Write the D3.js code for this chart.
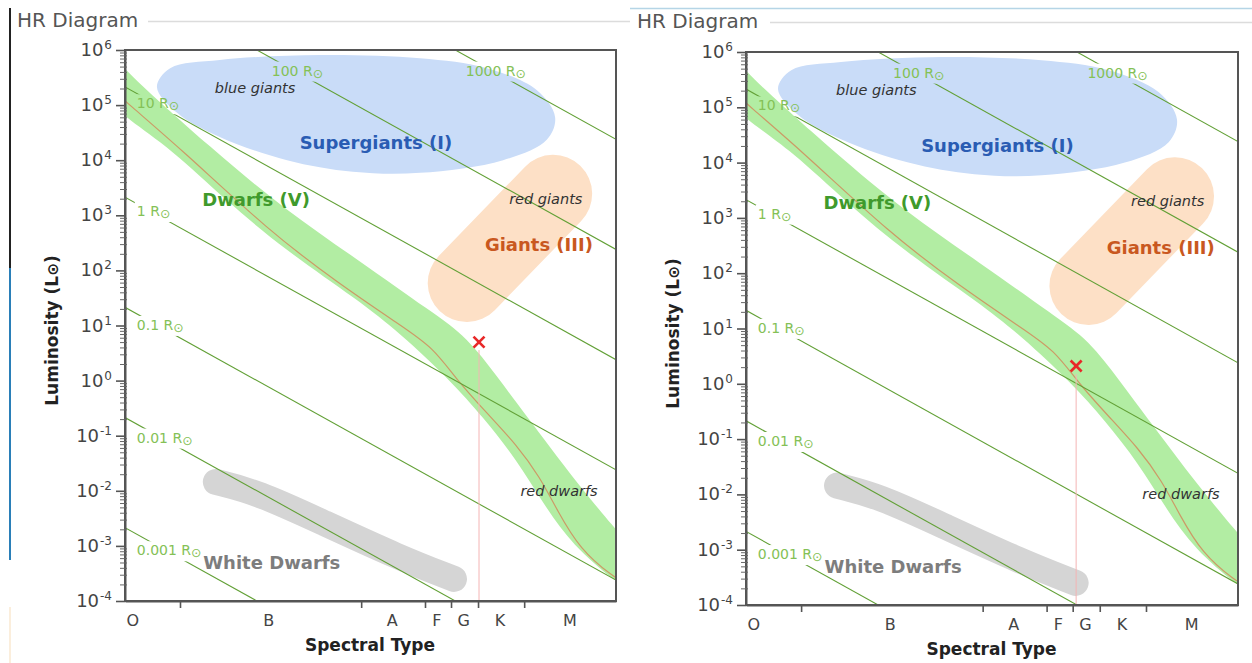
<!DOCTYPE html>
<html><head><meta charset="utf-8">
<script src="https://cdn.jsdelivr.net/npm/d3@7"></script>
<style>
html,body{margin:0;padding:0;background:#fff;overflow:hidden;}
svg{display:block;font-family:"DejaVu Sans",Verdana,sans-serif;}
</style></head><body>
<svg id="chart" width="1252" height="663"></svg>
<script>
// ---------------- DATA ----------------
// x is a schematic spectral position (0 = left edge, 100 = right edge); luminosity as log10(L/Lsun)
const spectralClasses = ["O","B","A","F","G","K","M"];
const spectralLabelX = [1.6, 29.3, 54.4, 63.5, 69.0, 76.4, 90.6];
const spectralBoundaries = [11.2, 48.1, 61.1, 66.4, 71.9, 81.3];
const lumExponents = [-4,-3,-2,-1,0,1,2,3,4,5,6];

const radiusLabels = ["1000 R","100 R","10 R","1 R","0.1 R","0.01 R","0.001 R"];
const radiusLogLLeft = [9.33, 7.33, 5.33, 3.33, 1.33, -0.67, -2.67];
const radiusLogLRight = [4.38, 2.38, 0.38, -1.62, -3.62, -5.62, -7.62];
const radiusLabelStartX = [69.4, 29.9, 2.4, 2.4, 2.4, 2.4, 2.4];

const supergiantX = [6.5, 9.2, 19.3, 39.7, 60.1, 73.7, 83.9, 87.6, 85.9, 77.0, 60.1, 46.4, 33.0, 19.3, 10.6];
const supergiantLogL = [5.33, 5.67, 5.82, 5.91, 5.85, 5.67, 5.27, 4.78, 4.37, 4.00, 3.77, 3.79, 4.00, 4.42, 4.86];

const giantX = [69.6, 87.2];
const giantLogL = [1.77, 3.39];

const whiteDwarfX = [18.5, 27.0, 39.7, 56.0, 67.0];
const whiteDwarfLogL = [-1.84, -2.03, -2.55, -3.22, -3.60];

const msUpperX = [-2, 0, 17.9, 32.6, 47.5, 62.7, 69.7, 75.8, 81.9, 86.6, 92.1, 100, 102];
const msUpperLogL = [5.88, 5.62, 4.19, 3.10, 2.19, 1.23, 0.79, 0.07, -0.66, -1.21, -1.86, -2.71, -2.90];
const msLowerX = [-2, 0, 9.6, 20.4, 32.6, 47.5, 56.0, 66.2, 72.9, 79.8, 85.1, 91.2, 100, 102];
const msLowerLogL = [4.98, 4.78, 4.19, 3.28, 2.37, 1.46, 0.86, 0.01, -0.66, -1.44, -2.22, -3.00, -3.65, -3.75];
const zamsX = [-2, 0, 11.6, 29.1, 43.4, 56.0, 62.7, 67.6, 73.7, 79.8, 84.5, 88.0, 92.7, 99.4, 102];
const zamsLogL = [5.25, 5.07, 4.19, 2.73, 1.77, 1.01, 0.61, 0.01, -0.59, -1.17, -1.75, -2.35, -3.07, -3.56, -3.68];

const regionLabels = ["blue giants","Supergiants (I)","Dwarfs (V)","red giants","Giants (III)","red dwarfs","White Dwarfs"];
const regionLabelX = [26.5, 51.1, 26.7, 85.7, 84.3, 88.4, 29.9];
const regionLabelLogL = [5.31, 4.31, 3.28, 3.30, 2.46, -2.00, -3.31];

const starX = [72.1, 67.1];
const starLum = [5.0, 2.1];

// ---------------- STYLES / LAYOUT ----------------
const W = 1252, H = 663;
const panels = [
  {x0:125, x1:616, y0:50, y1:601, titleX:17, titleY:27, ruleX0:148, ruleX1:630, ruleY:21.5},
  {x0:746, x1:1238, y0:52, y1:605, titleX:637, titleY:28, ruleX0:770, ruleX1:1252, ruleY:22.5}
];
const regionStyles = [
  {size:14.5, weight:"normal", style:"italic", fill:"#333"},
  {size:18, weight:"bold", style:"normal", fill:"#2a5cb3"},
  {size:18, weight:"bold", style:"normal", fill:"#3f9a2c"},
  {size:14.5, weight:"normal", style:"italic", fill:"#333"},
  {size:18, weight:"bold", style:"normal", fill:"#c9581f"},
  {size:14.5, weight:"normal", style:"italic", fill:"#333"},
  {size:18, weight:"bold", style:"normal", fill:"#7d7d7d"}
];

const svg = d3.select("#chart");
const defs = svg.append("defs");

// page furniture
svg.append("line").attr("x1",10).attr("x2",10).attr("y1",8).attr("y2",268).attr("stroke","#222").attr("stroke-width",2);
svg.append("line").attr("x1",10).attr("x2",10).attr("y1",268).attr("y2",560).attr("stroke","#2a7fb8").attr("stroke-width",2);
svg.append("line").attr("x1",10).attr("x2",10).attr("y1",607).attr("y2",663).attr("stroke","#fbeedc").attr("stroke-width",2);
svg.append("line").attr("x1",630).attr("x2",1252).attr("y1",8.5).attr("y2",8.5).attr("stroke","#b5d5e6").attr("stroke-width",1.5);

function drawPanel(p, idx) {
  const x = d3.scaleLinear().domain([0,100]).range([p.x0, p.x1]);
  const y = d3.scaleLog().domain([1e-4, 1e6]).range([p.y1, p.y0]);
  const yl = v => y(Math.pow(10, v));
  const g = svg.append("g");

  // title + header rule
  g.append("text").attr("x",p.titleX).attr("y",p.titleY).attr("font-size",20).attr("fill","#555").text("HR Diagram");
  g.append("line").attr("x1",p.ruleX0).attr("x2",p.ruleX1).attr("y1",p.ruleY).attr("y2",p.ruleY).attr("stroke","#dcdcdc").attr("stroke-width",1.5);

  const clipId = "clip"+idx;
  defs.append("clipPath").attr("id",clipId).append("rect")
    .attr("x",p.x0).attr("y",p.y0).attr("width",p.x1-p.x0).attr("height",p.y1-p.y0);
  const plot = g.append("g").attr("clip-path",`url(#${clipId})`);

  const line = d3.line().x(d=>x(d[0])).y(d=>yl(d[1]));

  // supergiants
  plot.append("path")
    .attr("d", line.curve(d3.curveCatmullRomClosed)(d3.zip(supergiantX, supergiantLogL)))
    .attr("fill","#c9dcf8");
  // giants capsule
  plot.append("path")
    .attr("d", line.curve(d3.curveLinear)(d3.zip(giantX, giantLogL)))
    .attr("fill","none").attr("stroke","#fde0c6").attr("stroke-width",78).attr("stroke-linecap","round");
  // white dwarfs
  plot.append("path")
    .attr("d", line.curve(d3.curveBasis)(d3.zip(whiteDwarfX, whiteDwarfLogL)))
    .attr("fill","none").attr("stroke","#d5d5d5").attr("stroke-width",26).attr("stroke-linecap","round");
  // main sequence band
  const up = line.curve(d3.curveBasis)(d3.zip(msUpperX, msUpperLogL));
  const lo = line.curve(d3.curveBasis)(d3.zip(msLowerX, msLowerLogL).reverse());
  plot.append("path").attr("d", up + "L" + lo.slice(1) + "Z").attr("fill","#b2eda3");
  plot.append("path")
    .attr("d", line.curve(d3.curveBasis)(d3.zip(zamsX, zamsLogL)))
    .attr("fill","none").attr("stroke","#cc9a66").attr("stroke-width",1.2);

  // radius lines with masked label gaps
  const maskId = "mask"+idx;
  const mask = defs.append("mask").attr("id",maskId).attr("maskUnits","userSpaceOnUse")
    .attr("x",0).attr("y",0).attr("width",W).attr("height",H);
  mask.append("rect").attr("x",0).attr("y",0).attr("width",W).attr("height",H).attr("fill","white");
  const rlines = plot.append("g").attr("mask",`url(#${maskId})`);
  const rlabels = plot.append("g");
  radiusLabels.forEach((lab, i) => {
    rlines.append("path")
      .attr("d", line.curve(d3.curveLinear)([[0, radiusLogLLeft[i]], [100, radiusLogLRight[i]]]))
      .attr("fill","none").attr("stroke","#62a036").attr("stroke-width",1.1);
    const t = rlabels.append("text").attr("x", x(radiusLabelStartX[i])).attr("y", 0)
      .attr("font-size",14).attr("fill","#84c156");
    t.append("tspan").text(lab);
    t.append("tspan").attr("font-size","0.9em").attr("dy","2").text("⊙");
    const w = t.node().getComputedTextLength();
    const cx = x.invert(x(radiusLabelStartX[i]) + w/2);
    const lv = radiusLogLLeft[i] + (radiusLogLRight[i]-radiusLogLLeft[i]) * cx/100;
    t.attr("y", yl(lv) + 3);
    const bb = t.node().getBBox();
    mask.append("rect").attr("x",bb.x-2).attr("y",bb.y-1).attr("width",bb.width+4).attr("height",bb.height+2).attr("fill","black");
  });

  // region labels
  regionLabels.forEach((lab, i) => {
    const s = regionStyles[i];
    plot.append("text").attr("x", x(regionLabelX[i])).attr("y", yl(regionLabelLogL[i]))
      .attr("dy","0.35em").attr("text-anchor","middle")
      .attr("font-size",s.size).attr("font-weight",s.weight).attr("font-style",s.style)
      .attr("fill",s.fill).text(lab);
  });

  // star marker
  const sx = x(starX[idx]), sy = y(starLum[idx]);
  g.append("line").attr("x1",sx).attr("x2",sx).attr("y1",sy+8).attr("y2",p.y1)
    .attr("stroke","#f4b4b4").attr("stroke-width",1);
  const m = g.append("g").attr("transform",`translate(${sx},${sy})`)
    .attr("stroke","#e82828").attr("stroke-width",2.6);
  m.append("line").attr("x1",-5.5).attr("y1",-5.5).attr("x2",5.5).attr("y2",5.5);
  m.append("line").attr("x1",-5.5).attr("y1",5.5).attr("x2",5.5).attr("y2",-5.5);

  // frame
  g.append("rect").attr("x",p.x0).attr("y",p.y0).attr("width",p.x1-p.x0).attr("height",p.y1-p.y0)
    .attr("fill","none").attr("stroke","#555").attr("stroke-width",2);

  // x axis
  const xa = g.append("g").attr("transform",`translate(0,${p.y1})`)
    .call(d3.axisBottom(x).tickValues(spectralBoundaries).tickSize(7).tickSizeOuter(0).tickFormat(""));
  xa.select(".domain").attr("stroke","#555").attr("stroke-width",2);
  xa.selectAll(".tick line").attr("stroke","#555").attr("stroke-width",1.6);
  g.selectAll(null).data(spectralClasses).enter().append("text")
    .attr("x",(d,i)=>x(spectralLabelX[i])).attr("y",p.y1+25)
    .attr("text-anchor","middle").attr("font-size",16).attr("fill","#444").text(d=>d);
  g.append("text").attr("x",(p.x0+p.x1)/2 - 0.5).attr("y",p.y1+50)
    .attr("text-anchor","middle").attr("font-size",17).attr("font-weight","bold").attr("fill","#222")
    .text("Spectral Type");

  // y axis
  const majors = lumExponents.map(e => Math.pow(10, e));
  const minors = [];
  lumExponents.slice(0,-1).forEach(e => { for (let k=2;k<=9;k++) minors.push(k*Math.pow(10,e)); });
  const ya = g.append("g").attr("transform",`translate(${p.x0},0)`)
    .call(d3.axisLeft(y).tickValues(majors).tickSize(9).tickSizeOuter(0).tickFormat(""));
  ya.select(".domain").attr("stroke","#555").attr("stroke-width",2);
  ya.selectAll(".tick line").attr("stroke","#555").attr("stroke-width",1.6);
  const ym = g.append("g").attr("transform",`translate(${p.x0},0)`)
    .call(d3.axisLeft(y).tickValues(minors).tickSize(5).tickSizeOuter(0).tickFormat(""));
  ym.select(".domain").remove();
  ym.selectAll(".tick line").attr("x2",-5).attr("x1",2).attr("stroke","#666").attr("stroke-width",1);
  lumExponents.forEach(e => {
    const t = g.append("text").attr("x",p.x0-13).attr("y",y(Math.pow(10,e))+6)
      .attr("text-anchor","end").attr("font-size",18).attr("fill","#444");
    t.append("tspan").text("10");
    t.append("tspan").attr("font-size",12).attr("dy",-7).attr("dx",1).text(String(e));
  });
  const ly = (p.y0+p.y1)/2 + 5;
  const lt = g.append("text").attr("transform",`translate(${p.x0-67},${ly}) rotate(-90)`)
    .attr("text-anchor","middle").attr("font-size",17).attr("font-weight","bold").attr("fill","#222");
  lt.append("tspan").text("Luminosity (L");
  lt.append("tspan").attr("font-size","0.9em").text("⊙");
  lt.append("tspan").text(")");
}

panels.forEach(drawPanel);
</script>
</body></html>
